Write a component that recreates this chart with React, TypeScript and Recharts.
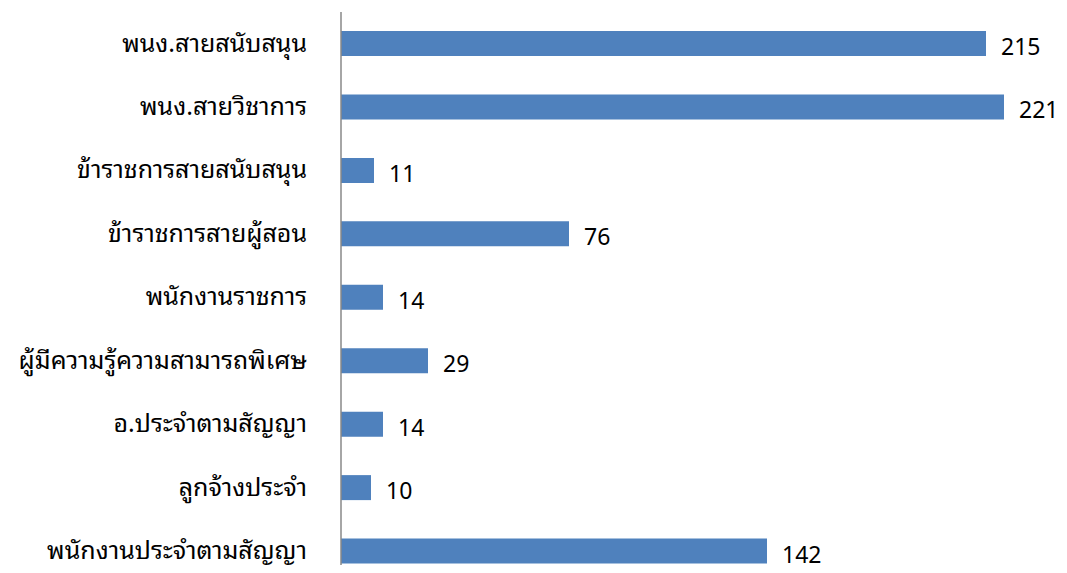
import React from 'react';
import { BarChart, Bar, XAxis, YAxis, LabelList } from 'recharts';

// ประเภทบุคลากร (เรียงจากบนลงล่าง)
const categories = [
  'พนง.สายสนับสนุน',
  'พนง.สายวิชาการ',
  'ข้าราชการสายสนับสนุน',
  'ข้าราชการสายผู้สอน',
  'พนักงานราชการ',
  'ผู้มีความรู้ความสามารถพิเศษ',
  'อ.ประจำตามสัญญา',
  'ลูกจ้างประจำ',
  'พนักงานประจำตามสัญญา',
];
const counts = [215, 221, 11, 76, 14, 29, 14, 10, 142];

const data = categories.map((name, i) => ({ name, value: counts[i] }));

const FONT = "Tahoma, 'Noto Sans Thai Looped', Loma, Garuda, 'Noto Sans Thai', 'Noto Sans', sans-serif";

const ValueLabel = (props: any) => {
  const { x, y, width, height, value } = props;
  return (
    <text
      x={x + width + 15}
      y={y + height / 2 + 1}
      fill="#000"
      fontSize={23}
      fontFamily={FONT}
      dominantBaseline="central"
    >
      {value}
    </text>
  );
};

export default function App() {
  return (
    <div style={{ margin: -8, width: 1067, height: 573, background: '#fff' }}>
      <BarChart
        width={1067}
        height={573}
        data={data}
        layout="vertical"
        margin={{ top: 12, right: 6, left: 0, bottom: -10 }}
        barSize={25}
      >
        <XAxis type="number" domain={[0, 240]} hide />
        <YAxis
          type="category"
          dataKey="name"
          width={341}
          tickLine={false}
          tickSize={0}
          tickMargin={34}
          axisLine={{ stroke: '#888888', strokeWidth: 1.5 }}
          tick={{ fill: '#000', fontSize: 25, fontFamily: FONT, dy: -1 }}
          interval={0}
        />
        <Bar dataKey="value" fill="#4F81BD" isAnimationActive={false}>
          <LabelList dataKey="value" content={ValueLabel} />
        </Bar>
      </BarChart>
    </div>
  );
}
